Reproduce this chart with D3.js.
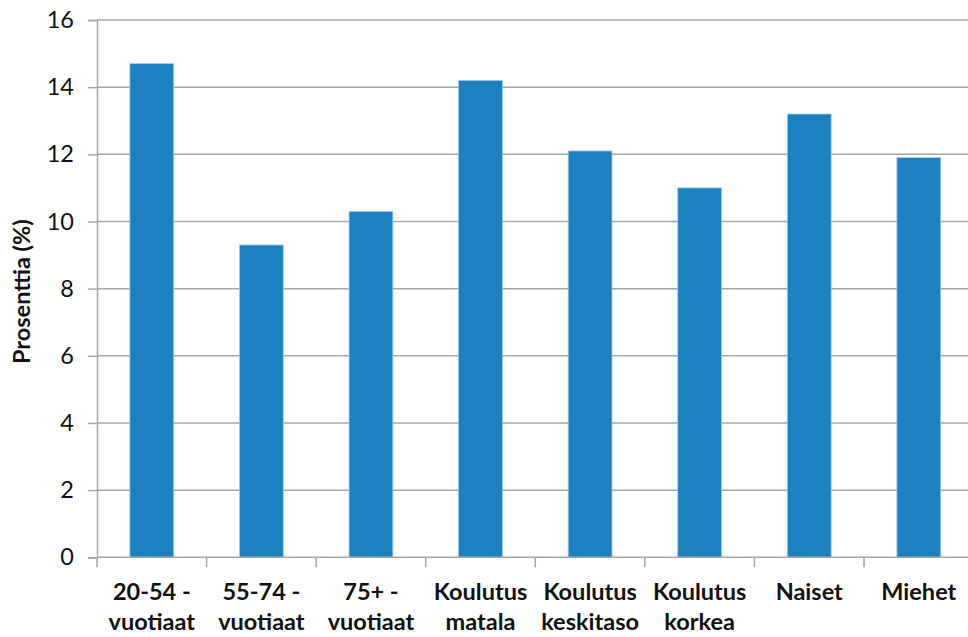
<!DOCTYPE html>
<html>
<head>
<meta charset="utf-8">
<script src="https://cdn.jsdelivr.net/npm/d3@7"></script>
<style>
  html, body { margin: 0; padding: 0; background: #fff; overflow: hidden; }
  svg { display: block; overflow: hidden; }
  text { font-family: Lato, "Open Sans", sans-serif; fill: #111; }
</style>
</head>
<body>
<svg id="chart" width="968" height="637"></svg>
<script>
// Category labels (two lines each) and their percentages
const categories = [
  ["20-54 -", "vuotiaat"],
  ["55-74 -", "vuotiaat"],
  ["75+ -", "vuotiaat"],
  ["Koulutus", "matala"],
  ["Koulutus", "keskitaso"],
  ["Koulutus", "korkea"],
  ["Naiset", ""],
  ["Miehet", ""]
];
const values = [14.7, 9.3, 10.3, 14.2, 12.1, 11.0, 13.2, 11.9];
const yTicks = [0, 2, 4, 6, 8, 10, 12, 14, 16];
const yTitle = "Prosenttia (%)";

const svg = d3.select("#chart");
const W = 968, H = 637;
// plot area runs slightly past the right edge of the canvas
const x0 = 97, x1 = 973.6;
const y0 = 557.3, y1 = 20;

const keys = categories.map((c, i) => i);
const xBand = d3.scaleBand().domain(keys).range([x0, x1]);
const barW = xBand.bandwidth() * 0.4;
const cx = i => xBand(i) + xBand.bandwidth() / 2;
const y = d3.scaleLinear().domain([0, 16]).range([y0, y1]);

// horizontal gridlines
svg.append("g")
  .selectAll("line")
  .data(yTicks.filter(t => t > 0))
  .join("line")
  .attr("x1", x0).attr("x2", x1)
  .attr("y1", d => y(d)).attr("y2", d => y(d))
  .attr("stroke", "#a6a6a6").attr("stroke-width", 1.5);

// bars
svg.append("g")
  .selectAll("rect")
  .data(values)
  .join("rect")
  .attr("x", (d, i) => cx(i) - barW / 2)
  .attr("width", barW)
  .attr("y", d => y(d))
  .attr("height", d => y(0) - y(d))
  .attr("fill", "#1b81c1")
  .attr("stroke", "#9ccbee")
  .attr("stroke-width", 0.8);

// y axis
const yAxis = d3.axisLeft(y).tickValues(yTicks).tickSize(9).tickPadding(14);
const gy = svg.append("g").attr("transform", `translate(${x0},0)`).call(yAxis);
gy.select(".domain").attr("stroke", "#a6a6a6").attr("stroke-width", 1.5);
gy.selectAll(".tick line").attr("stroke", "#a6a6a6").attr("stroke-width", 1.5);
gy.selectAll(".tick text").attr("font-size", 23.5).attr("font-family", "Lato, sans-serif").attr("fill", "#111");

// x axis with tick marks on band boundaries
const gx = svg.append("g").attr("transform", `translate(0,${y0})`);
gx.append("line").attr("x1", x0).attr("x2", x1).attr("y1", 0).attr("y2", 0)
  .attr("stroke", "#a6a6a6").attr("stroke-width", 1.5);
gx.selectAll("line.tick")
  .data(keys)
  .join("line")
  .attr("class", "tick")
  .attr("x1", d => xBand(d))
  .attr("x2", d => xBand(d))
  .attr("y1", 0).attr("y2", 10)
  .attr("stroke", "#a6a6a6").attr("stroke-width", 1.5);

const labels = gx.selectAll("text.cat")
  .data(categories)
  .join("text")
  .attr("class", "cat")
  .attr("text-anchor", "middle")
  .attr("font-size", 23.5)
  .attr("font-weight", "bold")
  .attr("transform", (d, i) => `translate(${cx(i)},0)`);
labels.append("tspan").attr("x", 0).attr("y", 43).text(d => d[0]);
labels.append("tspan").attr("x", 0).attr("y", 73).text(d => d[1]);

// y axis title
svg.append("text")
  .attr("transform", `translate(30,${(y0 + y1) / 2 + 3}) rotate(-90)`)
  .attr("text-anchor", "middle")
  .attr("font-size", 23.5)
  .attr("font-weight", "bold")
  .text(yTitle);
</script>
</body>
</html>
